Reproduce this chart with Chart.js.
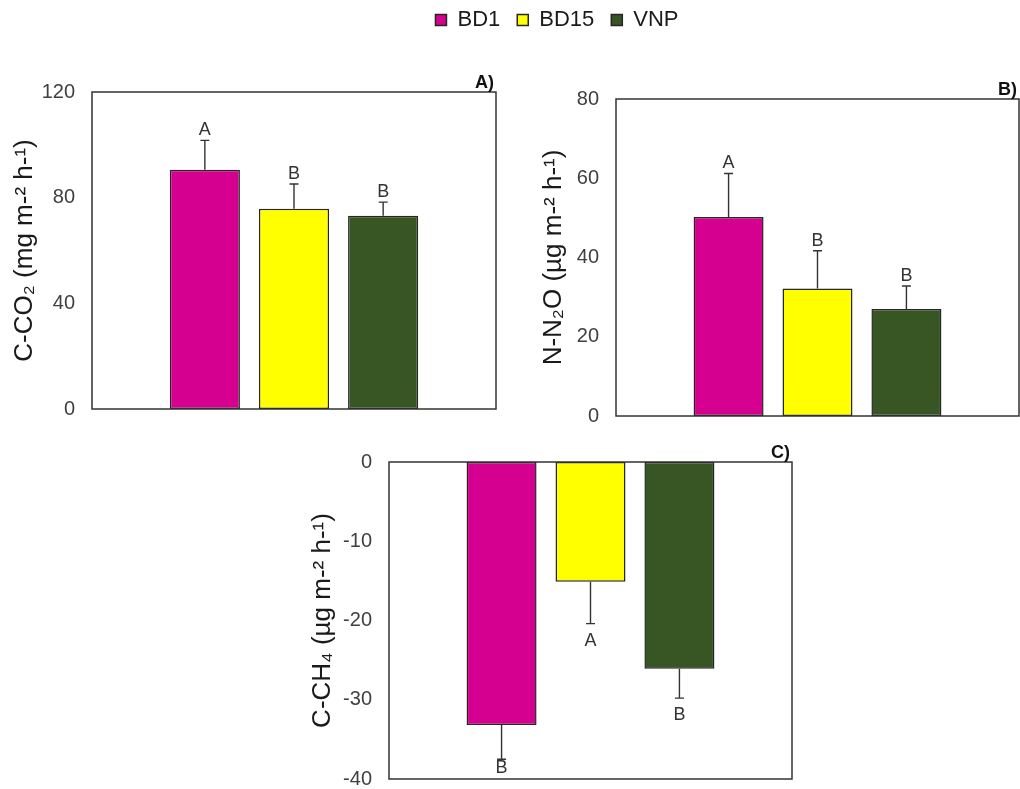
<!DOCTYPE html>
<html>
<head>
<meta charset="utf-8">
<script src="https://cdn.jsdelivr.net/npm/chart.js@4.4.1/dist/chart.umd.min.js"></script>
<style>
  html, body { margin: 0; padding: 0; background: #fff; }
  body { width: 1020px; height: 789px; position: relative; overflow: hidden; }
  .panel { position: absolute; }
</style>
</head>
<body>
<div class="panel" style="left:357px; top:-8px"><canvas id="legend" width="400" height="200"></canvas></div>
<div class="panel" style="left:0px; top:60px"><canvas id="co2" width="510" height="380"></canvas></div>
<div class="panel" style="left:520px; top:60px"><canvas id="n2o" width="500" height="390"></canvas></div>
<div class="panel" style="left:300px; top:430px"><canvas id="ch4" width="510" height="380"></canvas></div>
<script>
// Treatments and their fill colours
const groups = ['BD1', 'BD15', 'VNP'];
const groupColors = ['#D5008F', '#FFFF00', '#375623'];

// A) C-CO2 flux (mg m-2 h-1)
const co2Mean = [90.6, 75.8, 73.2];
const co2Err = [11.1, 9.4, 5.1];
const co2Letters = ['A', 'B', 'B'];
const co2Ticks = [0, 40, 80, 120];

// B) N-N2O flux (µg m-2 h-1)
const n2oMean = [50.2, 32.2, 27.0];
const n2oErr = [11.0, 9.5, 5.8];
const n2oLetters = ['A', 'B', 'B'];
const n2oTicks = [0, 20, 40, 60, 80];

// C) C-CH4 flux (µg m-2 h-1)
const ch4Mean = [-33.2, -15.1, -26.1];
const ch4Err = [4.3, 5.3, 3.7];
const ch4Letters = ['B', 'A', 'B'];
const ch4Ticks = [-40, -30, -20, -10, 0];

const FONT = '"Liberation Sans", Arial, Helvetica, sans-serif';
Chart.defaults.font.family = FONT;
Chart.defaults.color = '#404040';

// Frame, one-sided error bars, significance letters and panel tag
const panelMarks = {
  id: 'panelMarks',
  afterDatasetsDraw(chart, args, opts) {
    if (!opts || !opts.mean) return;
    const { ctx, chartArea: a } = chart;
    const y = chart.scales.y;
    ctx.save();
    ctx.strokeStyle = '#333';
    ctx.lineWidth = 1.5;
    ctx.strokeRect(a.left, a.top, a.right - a.left, a.bottom - a.top);

    ctx.font = '18px ' + FONT;
    ctx.fillStyle = '#333';
    ctx.textAlign = 'center';
    ctx.textBaseline = 'alphabetic';
    opts.mean.forEach((m, i) => {
      const bar = chart.getDatasetMeta(i).data[0];
      const dir = m < 0 ? -1 : 1;
      const yEnd = y.getPixelForValue(m + dir * opts.err[i]);
      ctx.lineWidth = 1.4;
      ctx.beginPath();
      ctx.moveTo(bar.x, bar.y);
      ctx.lineTo(bar.x, yEnd);
      ctx.moveTo(bar.x - 4.5, yEnd);
      ctx.lineTo(bar.x + 4.5, yEnd);
      ctx.stroke();
      if (dir > 0) {
        ctx.fillText(opts.letters[i], bar.x, yEnd - 5);
      } else {
        // keep the letter inside the plot frame
        const base = Math.min(yEnd + 22, a.bottom - 6);
        ctx.fillText(opts.letters[i], bar.x, base);
      }
    });

    ctx.font = 'bold 18px ' + FONT;
    ctx.fillStyle = '#111';
    ctx.textAlign = 'right';
    ctx.fillText(opts.tag, a.right - 2, a.top - 4);
    ctx.restore();
  }
};
Chart.register(panelMarks);

function barSets(values) {
  return groups.map((g, i) => ({
    label: g,
    data: values ? [values[i]] : [],
    backgroundColor: groupColors[i],
    borderColor: '#262626',
    borderWidth: 1.5,
    borderSkipped: false,
    categoryPercentage: 0.662,
    barPercentage: 0.787
  }));
}

function yAxis(ticks, title, titleShift, axisWidth) {
  return {
    min: ticks[0],
    max: ticks[ticks.length - 1],
    afterBuildTicks: s => { s.ticks = ticks.map(v => ({ value: v })); },
    afterFit: s => { s.width = axisWidth; },
    grid: { display: false, drawTicks: false },
    border: { display: false },
    ticks: { padding: 17, color: '#404040', font: { size: 20 } },
    title: {
      display: true, text: title, color: '#1a1a1a',
      font: { size: 26, lineHeight: 1 },
      padding: { top: titleShift, bottom: 0 }
    }
  };
}

function panel(id, values, err, letters, tag, ticks, title, titleShift, axisWidth, padding) {
  return new Chart(document.getElementById(id), {
    type: 'bar',
    data: { labels: [''], datasets: barSets(values) },
    options: {
      responsive: false,
      animation: false,
      devicePixelRatio: 1,
      layout: { padding },
      scales: {
        x: { display: false },
        y: yAxis(ticks, title, titleShift, axisWidth)
      },
      plugins: {
        legend: { display: false },
        tooltip: { enabled: false },
        panelMarks: { mean: values, err, letters, tag }
      }
    }
  });
}

panel('co2', co2Mean, co2Err, co2Letters, 'A)', co2Ticks,
  'C-CO\u2082 (mg m-\u00B2 h-\u00B9)', 12, 92, { left: 0, right: 14, top: 32, bottom: 31 });
panel('n2o', n2oMean, n2oErr, n2oLetters, 'B)', n2oTicks,
  'N-N\u2082O (\u00B5g m-\u00B2 h-\u00B9)', 20.5, 96, { left: 0, right: 1, top: 39, bottom: 34 });
panel('ch4', ch4Mean, ch4Err, ch4Letters, 'C)', ch4Ticks,
  'C-CH\u2084 (\u00B5g m-\u00B2 h-\u00B9)', 9.5, 89, { left: 0, right: 18, top: 32, bottom: 31 });

// Shared legend for the three treatments
new Chart(document.getElementById('legend'), {
  type: 'bar',
  data: { labels: [], datasets: barSets(null) },
  options: {
    responsive: false,
    animation: false,
    devicePixelRatio: 1,
    layout: { padding: 0 },
    scales: { x: { display: false }, y: { display: false } },
    plugins: {
      tooltip: { enabled: false },
      legend: {
        display: true,
        position: 'top',
        labels: {
          boxWidth: 11, boxHeight: 11, padding: 17,
          color: '#1a1a1a', font: { size: 22 }
        }
      }
    }
  }
});
</script>
</body>
</html>
